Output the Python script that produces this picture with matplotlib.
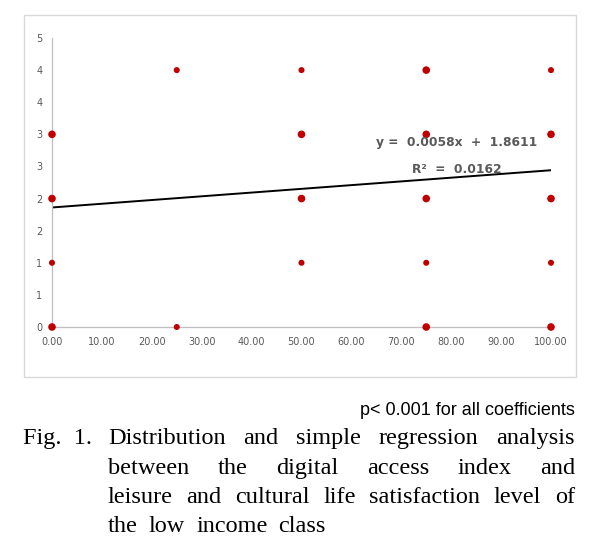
import matplotlib
matplotlib.use("Agg")
import matplotlib.pyplot as plt
from matplotlib.patches import Rectangle

# digital access index (x) vs satisfaction level (y)
access_index = [0, 0, 0, 0, 25, 25, 50, 50, 50, 50,
                75, 75, 75, 75, 75, 100, 100, 100, 100, 100]
satisfaction = [3, 2, 1, 0, 4, 0, 4, 3, 2, 1,
                4, 3, 2, 1, 0, 4, 3, 2, 1, 0]
slope = 0.0058
intercept = 1.8611
r_squared = 0.0162

x_ticks = [0, 10, 20, 30, 40, 50, 60, 70, 80, 90, 100]
y_ticks = [0, 0.5, 1, 1.5, 2, 2.5, 3, 3.5, 4, 4.5]
y_tick_labels = ["0", "1", "1", "2", "2", "3", "3", "4", "4", "5"]

note = "p< 0.001 for all coefficients"
caption_lines = [
    "Distribution and simple regression analysis",
    "between the digital access index and",
    "leisure and cultural life satisfaction level of",
    "the low income class",
]

W, H = 595, 546
fig = plt.figure(figsize=(W / 100, H / 100), dpi=100)

# light frame around chart area
fig.patches.append(Rectangle((24 / W, 1 - 377 / H), 552 / W, 362 / H,
                             transform=fig.transFigure, fill=False,
                             edgecolor="#d9d9d9", lw=1))

ax = fig.add_axes([52 / W, 1 - 327 / H, 499 / W, 289 / H])
# overlapping respondents drawn a bit larger
big = [1, 1, 0, 1, 0, 0, 0, 1, 1, 0, 1, 1, 1, 0, 1, 0, 1, 1, 0, 1]
sizes = [30 if b else 19 for b in big]
ax.scatter(access_index, satisfaction, s=sizes, color="#c00000",
           zorder=3, clip_on=False, linewidths=0)
ax.plot([0, 100], [intercept, intercept + slope * 100], color="black", lw=1.4,
        zorder=2)

ax.set_xlim(0, 100)
ax.set_ylim(0, 4.5)
ax.set_xticks(x_ticks)
ax.set_xticklabels([f"{v:.2f}" for v in x_ticks])
ax.set_yticks(y_ticks)
ax.set_yticklabels(y_tick_labels)
ax.tick_params(length=0, labelsize=7, labelcolor="#595959", pad=7)
for s in ["top", "right"]:
    ax.spines[s].set_visible(False)
for s in ["left", "bottom"]:
    ax.spines[s].set_color("#bfbfbf")
    ax.spines[s].set_linewidth(0.9)

ax.text(81.1, 2.87, f"y =  {slope:.4f}x  +  {intercept:.4f}", ha="center",
        va="center", fontsize=8.8, fontweight="bold", color="#595959")
ax.text(81.2, 2.45, f"R²  =  {r_squared:.4f}", ha="center", va="center",
        fontsize=8.8, fontweight="bold", color="#595959")

fig.text(575 / W, 1 - 415 / H, note, ha="right", va="baseline",
         fontsize=13, family="Liberation Sans", color="black")

# justified caption with hanging indent
renderer = fig.canvas.get_renderer()
cap_font = dict(family="Liberation Serif", fontsize=17.5, color="black")
left, right = 108, 575
baselines = [444, 474, 503, 532]
fig.text(23 / W, 1 - baselines[0] / H, "Fig.  1.", ha="left", va="baseline",
         **cap_font)
for i, line in enumerate(caption_lines):
    words = line.split()
    y = 1 - baselines[i] / H
    texts = [fig.text(0, y, w, ha="left", va="baseline", **cap_font)
             for w in words]
    widths = [t.get_window_extent(renderer).width for t in texts]
    if i < len(caption_lines) - 1:
        gap = (right - left - sum(widths)) / (len(words) - 1)
    else:
        gap = 11
    x = left
    for t, w in zip(texts, widths):
        t.set_x(x / W)
        x += w + gap

fig.savefig("out.png", dpi=100)
